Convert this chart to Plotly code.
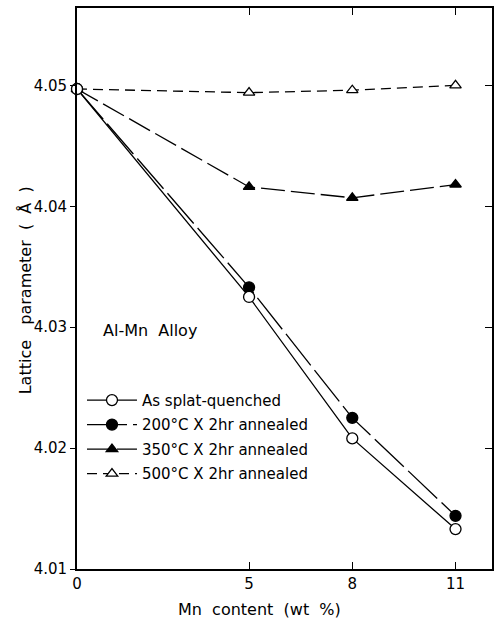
import plotly.graph_objects as go

# Mn content (wt %)
mn_content = [0, 5, 8, 11]

# Lattice parameter (Å) for each heat treatment
as_quenched = [4.0497, 4.0325, 4.0208, 4.0133]
annealed_200 = [4.0497, 4.0333, 4.0225, 4.0144]
annealed_350 = [4.0497, 4.0416, 4.0407, 4.0418]
annealed_500 = [4.0497, 4.0494, 4.0496, 4.0500]

series_names = [
    "As splat-quenched",
    "200°C X 2hr annealed",
    "350°C X 2hr annealed",
    "500°C X 2hr annealed",
]

y_ticks = [4.01, 4.02, 4.03, 4.04, 4.05]
y_tick_text = ["4.01", "4.02", "4.03", "4.04", "4.05"]
x_ticks = [0, 5, 8, 11]
x_tick_text = ["0", "5", "8", "11"]

FONT = "DejaVu Sans"
INK = "black"

fig = go.Figure()

# (values, name, symbol, fill, dash, legend rank) — drawn back to front so the
# open circle of the as-quenched series sits on top at 0 wt %
styles = [
    (annealed_500, series_names[3], "triangle-up", "white", "10px,6px", 4),
    (annealed_350, series_names[2], "triangle-up", INK, "24px,6px", 3),
    (annealed_200, series_names[1], "circle", INK, "40px,6px", 2),
    (as_quenched, series_names[0], "circle", "white", "solid", 1),
]

for values, name, symbol, fill, dash, rank in styles:
    size = 11 if symbol == "circle" else 10
    fig.add_trace(go.Scatter(
        x=mn_content, y=values, name=name,
        mode="lines+markers",
        line=dict(color=INK, width=1.3, dash=dash),
        marker=dict(symbol=symbol, size=size, color=fill,
                    line=dict(color=INK, width=1.3)),
        legendrank=rank, legendgroup=name,
        cliponaxis=False,
    ))

# transparent copy that carries the mirrored top/right axes
fig.add_trace(go.Scatter(
    x=mn_content, y=as_quenched, xaxis="x2", yaxis="y2",
    mode="lines", line=dict(color="rgba(0,0,0,0)"),
    showlegend=False, hoverinfo="skip",
))

x_range = [0, 12.06]
y_range = [4.01, 4.0564]

fig.update_layout(
    width=497, height=620,
    margin=dict(l=77, r=5, t=8, b=51),
    paper_bgcolor="white", plot_bgcolor="white",
    font=dict(family=FONT, size=15, color=INK),
    showlegend=True,
    legend=dict(
        x=0.012, y=0.33, xanchor="left", yanchor="top",
        bgcolor="rgba(0,0,0,0)", borderwidth=0,
        font=dict(family=FONT, size=15, color=INK),
        itemwidth=50, tracegroupgap=2,
        traceorder="grouped",
    ),
    xaxis=dict(
        range=x_range, tickmode="array", tickvals=x_ticks, ticktext=x_tick_text,
        ticks="inside", ticklen=7, tickwidth=1.3, tickcolor=INK,
        showline=True, linecolor=INK, linewidth=1.8, mirror=False,
        showgrid=False, zeroline=False,
        tickfont=dict(family=FONT, size=15, color=INK),
    ),
    xaxis2=dict(
        range=x_range, overlaying="x", side="top", anchor="y2",
        tickmode="array", tickvals=[5, 8, 11], showticklabels=False,
        ticks="inside", ticklen=7, tickwidth=1.3, tickcolor=INK,
        showline=True, linecolor=INK, linewidth=1.8,
        showgrid=False, zeroline=False,
    ),
    yaxis=dict(
        range=y_range, tickmode="array", tickvals=y_ticks, ticktext=y_tick_text,
        ticks="outside", ticklen=5, tickwidth=1.3, tickcolor=INK,
        showline=True, linecolor=INK, linewidth=1.8, mirror=False,
        showgrid=False, zeroline=False,
        tickfont=dict(family=FONT, size=15, color=INK),
    ),
    yaxis2=dict(
        range=y_range, overlaying="y", side="right", anchor="x2",
        tickmode="array", tickvals=y_ticks[1:], showticklabels=False,
        ticks="inside", ticklen=7, tickwidth=1.3, tickcolor=INK,
        showline=True, linecolor=INK, linewidth=1.8,
        showgrid=False, zeroline=False,
    ),
)

fig.add_annotation(
    text="Al-Mn  Alloy", x=0.058, y=0.426, xref="paper", yref="paper",
    xanchor="left", yanchor="middle", showarrow=False,
    font=dict(family=FONT, size=16, color=INK),
)
fig.add_annotation(
    text="Mn  content  (wt  %)", x=0.4386, y=-0.073, xref="paper", yref="paper",
    xanchor="center", yanchor="middle", showarrow=False,
    font=dict(family=FONT, size=16, color=INK),
)
fig.add_annotation(
    text="Lattice   parameter  (  Å  )", x=-0.125, y=0.497, xref="paper", yref="paper",
    xanchor="center", yanchor="middle", showarrow=False, textangle=-90,
    font=dict(family=FONT, size=16, color=INK),
)

fig.write_html("out.html")
